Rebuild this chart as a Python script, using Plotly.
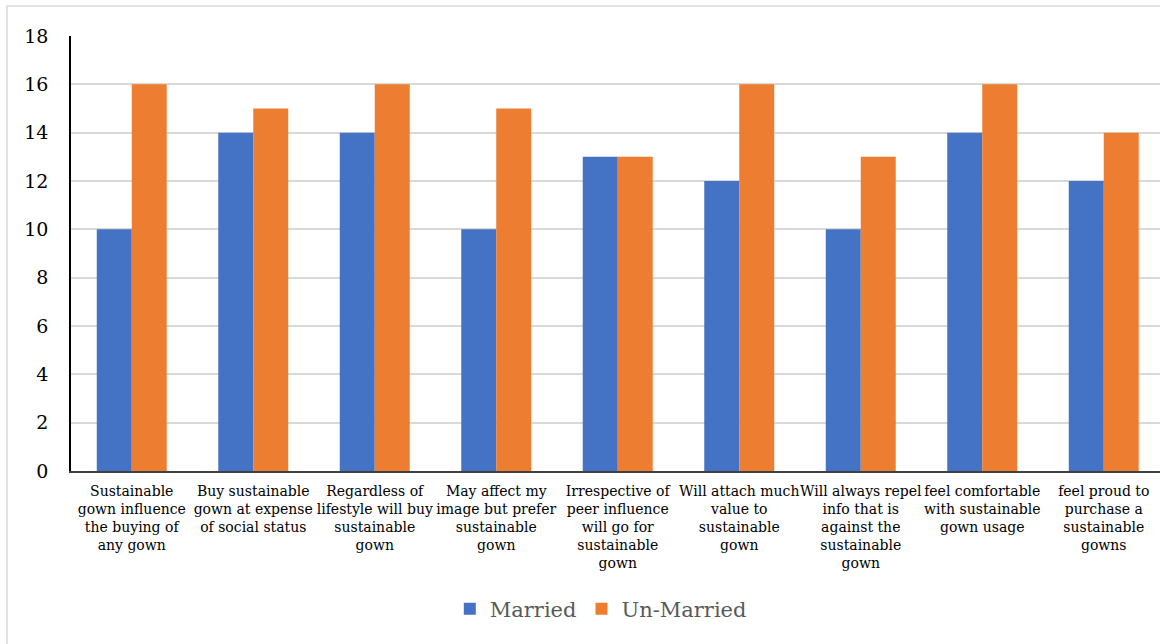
import plotly.graph_objects as go

# Survey statements (category labels, wrapped as they appear under the axis)
categories = [
    "Sustainable<br>gown influence<br>the buying of<br>any gown",
    "Buy sustainable<br>gown at expense<br>of social status",
    "Regardless of<br>lifestyle will buy<br>sustainable<br>gown",
    "May affect my<br>image but prefer<br>sustainable<br>gown",
    "Irrespective of<br>peer influence<br>will go for<br>sustainable<br>gown",
    "Will attach much<br>value to<br>sustainable<br>gown",
    "Will always repel<br>info that is<br>against the<br>sustainable<br>gown",
    "feel comfortable<br>with sustainable<br>gown usage",
    "feel proud to<br>purchase a<br>sustainable<br>gowns",
]

married = [10, 14, 14, 10, 13, 12, 10, 14, 12]
unmarried = [16, 15, 16, 15, 13, 16, 13, 16, 14]

y_ticks = [0, 2, 4, 6, 8, 10, 12, 14, 16, 18]

FONT = "DejaVu Serif"
W, H = 1160, 644
L, R, T, B = 71, 0, 36, 173
plot_w = W - L - R
plot_h = H - T - B

fig = go.Figure()
fig.add_trace(go.Bar(x=list(range(len(categories))), y=married, name="Married",
                     marker=dict(color="#4472C4", line=dict(width=0))))
fig.add_trace(go.Bar(x=list(range(len(categories))), y=unmarried, name="Un-Married",
                     marker=dict(color="#ED7D31", line=dict(width=0))))

# category slots are 121.5px wide; the last slot runs slightly past the right edge
slot = 121.5
x_end = -0.5 + plot_w / slot

fig.update_layout(
    width=W, height=H,
    margin=dict(l=L, r=R, t=T, b=B, pad=0),
    paper_bgcolor="white", plot_bgcolor="white",
    barmode="group", bargap=0.424, bargroupgap=0,
    font=dict(family=FONT, color="#000000"),
    showlegend=True,
    legend=dict(orientation="h", x=0.4865, xanchor="center",
                y=(0 - (609 - (T + plot_h))) / plot_h, yanchor="middle",
                font=dict(family=FONT, size=21, color="#595959"),
                itemwidth=30, tracegroupgap=0),
    xaxis=dict(
        range=[-0.5, x_end],
        tickmode="array",
        tickvals=list(range(len(categories))),
        ticktext=categories,
        tickangle=0,
        tickfont=dict(family=FONT, size=14, color="#000000"),
        ticklabelstandoff=6,
        showgrid=False,
        showline=True, linecolor="#404040", linewidth=1.5,
        ticks="", zeroline=False,
    ),
    yaxis=dict(
        range=[0, 18],
        tickmode="array",
        tickvals=y_ticks,
        ticktext=[str(v) for v in y_ticks],
        tickfont=dict(family=FONT, size=19, color="#000000"),
        showgrid=True, gridcolor="#d9d9d9", gridwidth=1.5,
        showline=True, linecolor="#000000", linewidth=1.5,
        ticks="outside", ticklen=17, tickcolor="rgba(0,0,0,0)",
        zeroline=False,
    ),
)

# outer chart frame (top and left edges)
fx = (7 - L) / plot_w
fy = (T + plot_h - 6) / plot_h
fig.add_shape(type="line", xref="paper", yref="paper", x0=fx, x1=1.1, y0=fy, y1=fy,
              line=dict(color="#d9d9d9", width=1.5))
fig.add_shape(type="line", xref="paper", yref="paper", x0=fx, x1=fx, y0=fy, y1=-0.5,
              line=dict(color="#d9d9d9", width=1.5))

fig.write_html("out.html")
